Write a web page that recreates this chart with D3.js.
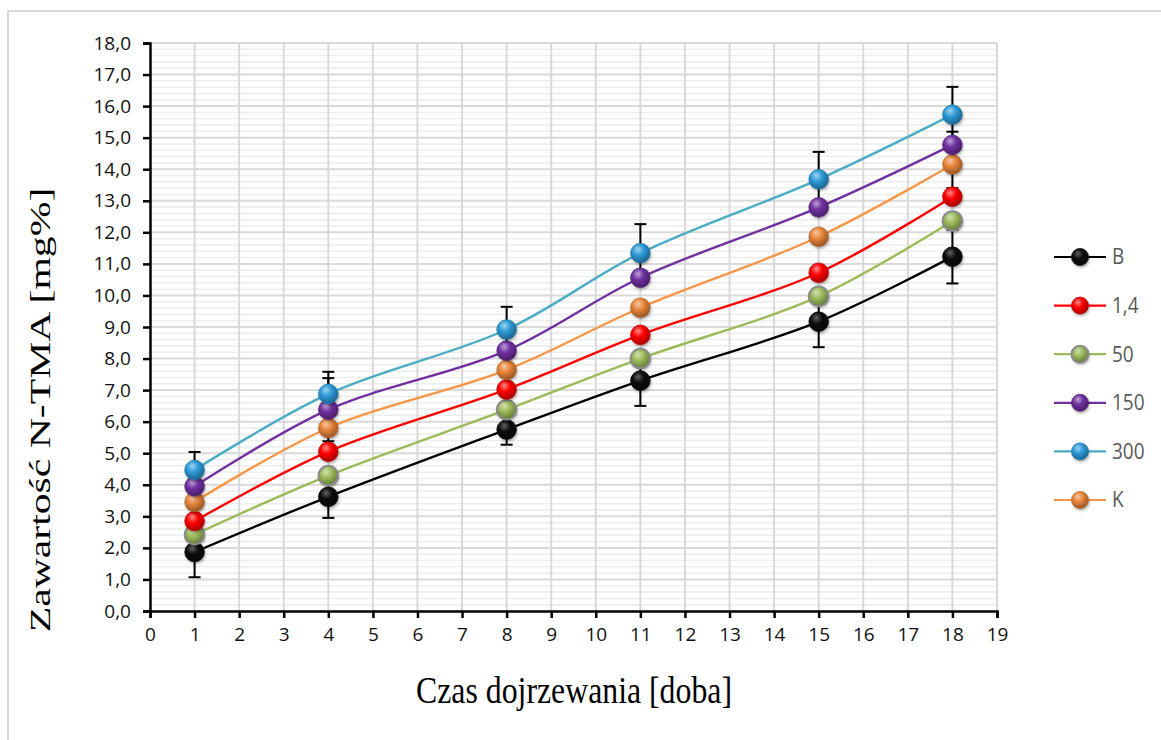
<!DOCTYPE html>
<html>
<head>
<meta charset="utf-8">
<script src="https://cdn.jsdelivr.net/npm/d3@7"></script>
<style>
  html, body { margin: 0; padding: 0; background: #fff; }
  svg { display: block; }
</style>
</head>
<body>
<svg id="chart" width="1161" height="740"></svg>
<script>
// Maturation days (x positions of measurements)
const days = [1, 4, 8, 11, 15, 18];

// N-TMA content [mg%] per sample group
const seriesNames = ["B", "1,4", "50", "150", "300", "K"];
const valuesB   = [1.87, 3.62, 5.75, 7.30, 9.17, 11.23];
const values14  = [2.85, 5.05, 7.02, 8.75, 10.72, 13.13];
const values50  = [2.42, 4.29, 6.38, 8.00, 9.97, 12.36];
const values150 = [3.95, 6.38, 8.25, 10.56, 12.79, 14.77];
const values300 = [4.47, 6.88, 8.92, 11.34, 13.68, 15.73];
const valuesK   = [3.46, 5.80, 7.64, 9.61, 11.86, 14.15];

// Standard deviations (error bars)
const errB   = [0.80, 0.67, 0.48, 0.80, 0.81, 0.85];
const err14  = [0.22, 0.22, 0.22, 0.22, 0.22, 0.22];
const err50  = [0.22, 0.22, 0.22, 0.22, 0.22, 0.22];
const err150 = [0.22, 1.00, 0.22, 0.22, 0.22, 0.42];
const err300 = [0.57, 0.70, 0.72, 0.92, 0.87, 0.88];
const errK   = [0.22, 0.22, 0.22, 0.22, 0.22, 0.75];

// Axis ticks
const yTicks = d3.range(0, 19, 1);
const xTicks = d3.range(0, 20, 1);

const lineColors   = ["#000000", "#ff0000", "#9bbb59", "#7030a0", "#4bacc6", "#f79646"];
const markerColors = ["#0d0d0d", "#ff0000", "#9bbb59", "#7030a0", "#2d9ad8", "#e8853a"];

const series = [
  { name: seriesNames[0], values: valuesB,   err: errB },
  { name: seriesNames[1], values: values14,  err: err14 },
  { name: seriesNames[2], values: values50,  err: err50 },
  { name: seriesNames[3], values: values150, err: err150 },
  { name: seriesNames[4], values: values300, err: err300 },
  { name: seriesNames[5], values: valuesK,   err: errK }
].map((s, i) => ({ ...s, line: lineColors[i], marker: markerColors[i], idx: i }));

const svg = d3.select("#chart");

// outer chart frame
svg.append("rect")
  .attr("x", 8).attr("y", 11)
  .attr("width", 1170).attr("height", 760)
  .attr("fill", "#fff")
  .attr("stroke", "#d9d9d9").attr("stroke-width", 2);

const x = d3.scaleLinear().domain([0, 19]).range([150, 997]);
const y = d3.scaleLinear().domain([0, 18]).range([611, 43]);

// sphere-like marker gradients
const defs = svg.append("defs");
series.forEach(s => {
  const c = d3.color(s.marker);
  const g = defs.append("radialGradient")
    .attr("id", "grad" + s.idx)
    .attr("cx", "40%").attr("cy", "35%").attr("r", "65%")
    .attr("fx", "38%").attr("fy", "30%");
  g.append("stop").attr("offset", "0%").attr("stop-color", d3.interpolateRgb(c, "#fff")(s.idx === 0 ? 0.35 : 0.55));
  g.append("stop").attr("offset", "45%").attr("stop-color", c.formatHex());
  g.append("stop").attr("offset", "100%").attr("stop-color", c.darker(1.2).formatHex());
});
const blur = defs.append("filter").attr("id", "shadow").attr("x", "-50%").attr("y", "-50%").attr("width", "200%").attr("height", "200%");
blur.append("feGaussianBlur").attr("stdDeviation", 1.6);

// minor horizontal grid
const minor = d3.range(0, 18.001, 0.2).filter(v => Math.abs(v - Math.round(v)) > 1e-6);
svg.append("g").selectAll("line").data(minor).join("line")
  .attr("x1", x(0)).attr("x2", x(19))
  .attr("y1", d => y(d)).attr("y2", d => y(d))
  .attr("stroke", "#ededed").attr("stroke-width", 1.5);

// major grid
svg.append("g").selectAll("line").data(yTicks.filter(d => d > 0)).join("line")
  .attr("x1", x(0)).attr("x2", x(19))
  .attr("y1", d => y(d)).attr("y2", d => y(d))
  .attr("stroke", "#d9d9d9").attr("stroke-width", 2);
svg.append("g").selectAll("line").data(xTicks.filter(d => d > 0)).join("line")
  .attr("x1", d => x(d)).attr("x2", d => x(d))
  .attr("y1", y(0)).attr("y2", y(18))
  .attr("stroke", "#d9d9d9").attr("stroke-width", 2);

// axes
const fmt = d => d.toFixed(1).replace(".", ",");
const yAxis = svg.append("g")
  .attr("transform", `translate(${x(0)},0)`)
  .call(d3.axisLeft(y).tickValues(yTicks).tickFormat(fmt).tickSize(7).tickPadding(12));
const xAxis = svg.append("g")
  .attr("transform", `translate(0,${y(0)})`)
  .call(d3.axisBottom(x).tickValues(xTicks).tickFormat(d3.format("d")).tickSize(7).tickPadding(10));
[yAxis, xAxis].forEach(a => {
  a.select(".domain").attr("stroke", "#000").attr("stroke-width", 2.5);
  a.selectAll(".tick line").attr("stroke", "#000").attr("stroke-width", 2.5);
  a.selectAll(".tick text")
    .attr("fill", "#111")
    .style("font-family", "'Open Sans', sans-serif")
    .style("font-size", "19px");
});

// error bars
const capW = 6;
const eb = svg.append("g");
series.forEach(s => {
  days.forEach((d, i) => {
    const cx = x(d), lo = y(s.values[i] - s.err[i]), hi = y(s.values[i] + s.err[i]);
    eb.append("line").attr("x1", cx).attr("x2", cx).attr("y1", lo).attr("y2", hi)
      .attr("stroke", "#000").attr("stroke-width", 2);
    [lo, hi].forEach(yy => eb.append("line")
      .attr("x1", cx - capW).attr("x2", cx + capW).attr("y1", yy).attr("y2", yy)
      .attr("stroke", "#000").attr("stroke-width", 2));
  });
});

// smoothed series lines
const line = d3.line()
  .x((d, i) => x(days[i]))
  .y(d => y(d))
  .curve(d3.curveCatmullRom.alpha(0.5));
svg.append("g").selectAll("path").data(series).join("path")
  .attr("d", s => line(s.values))
  .attr("fill", "none")
  .attr("stroke", s => s.line)
  .attr("stroke-width", 2.4);

// markers (drawn bottom series first so upper ones overlap)
const R = 9.8;
function drawMarker(g, s, cx, cy, r) {
  g.append("circle").attr("cx", cx + 1).attr("cy", cy + 2).attr("r", r)
    .attr("fill", "rgba(0,0,0,0.35)").attr("filter", "url(#shadow)");
  g.append("circle").attr("cx", cx).attr("cy", cy).attr("r", r)
    .attr("fill", `url(#grad${s.idx})`)
    .attr("stroke", s.idx === 2 ? "#8c8c8c" : d3.color(s.marker).darker(0.6).formatHex())
    .attr("stroke-width", s.idx === 2 ? 2 : 0.8);
}
const mg = svg.append("g");
const order = [0, 2, 1, 5, 3, 4];
order.forEach(k => {
  const s = series[k];
  days.forEach((d, i) => drawMarker(mg, s, x(d), y(s.values[i]), R));
});

// legend
const legend = svg.append("g");
const legendY0 = 257, legendStep = 48.6;
series.forEach((s, i) => {
  const ly = legendY0 + i * legendStep;
  legend.append("line").attr("x1", 1054).attr("x2", 1106).attr("y1", ly).attr("y2", ly)
    .attr("stroke", s.line).attr("stroke-width", 2.2);
  drawMarker(legend, s, 1080, ly, 8.5);
  legend.append("text")
    .attr("transform", `translate(1112,${ly}) scale(1,1.12)`)
    .attr("dy", "0.35em")
    .attr("fill", "#595959")
    .style("font-family", "'Open Sans', sans-serif")
    .style("font-size", "19px")
    .text(s.name);
});

// axis titles (glyphs stretched vertically)
svg.append("text")
  .attr("transform", `translate(50,410) rotate(-90) scale(1.39,1)`)
  .attr("text-anchor", "middle")
  .style("font-family", "'Liberation Serif', serif")
  .style("font-size", "30px")
  .attr("fill", "#000")
  .text("Zawartość N-TMA [mg%]");
svg.append("text")
  .attr("transform", `translate(574,703) scale(1.06,1.25)`)
  .attr("text-anchor", "middle")
  .style("font-family", "'Liberation Serif', serif")
  .style("font-size", "30px")
  .attr("fill", "#000")
  .text("Czas dojrzewania [doba]");
</script>
</body>
</html>
